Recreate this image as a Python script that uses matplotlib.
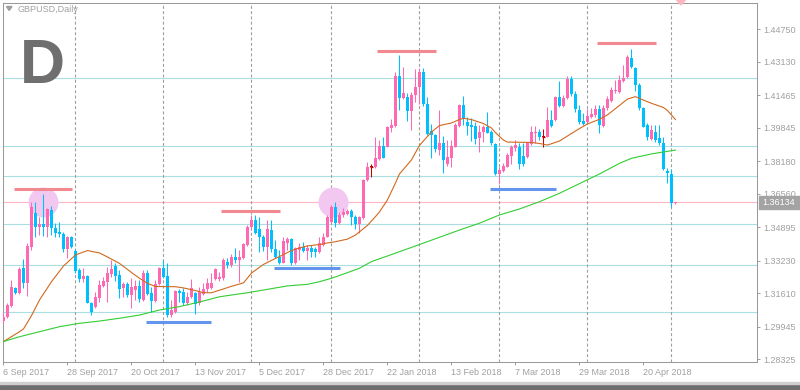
import matplotlib
matplotlib.use('Agg')
import matplotlib.pyplot as plt
import numpy as np
import pandas as pd
from matplotlib.patches import Rectangle, Polygon

plt.rcParams['font.family'] = ['Liberation Sans', 'DejaVu Sans']
plt.rcParams['lines.scale_dashes'] = False

# daily bars 6 Sep 2017 .. 2 May 2018 (no bars on 25 Dec / 1 Jan)
dates = pd.bdate_range('2017-09-06', '2018-05-02')
dates = dates[~dates.isin(pd.to_datetime(['2017-12-25', '2018-01-01']))]

opens = [
    1.3025, 1.3042, 1.3098, 1.3186, 1.3161, 1.3289, 1.3211, 1.3393, 1.3562, 1.3490,
    1.3506, 1.3490, 1.3576, 1.3485, 1.3468, 1.3456, 1.3382, 1.3443, 1.3372, 1.3277,
    1.3231, 1.3247, 1.3114, 1.3095, 1.3136, 1.3199, 1.3219, 1.3257, 1.3297, 1.3252,
    1.3188, 1.3208, 1.3153, 1.3178, 1.3199, 1.3128, 1.3264, 1.3161, 1.3123, 1.3206,
    1.3289, 1.3247, 1.3053, 1.3070, 1.3174, 1.3169, 1.3111, 1.3144, 1.3164, 1.3111,
    1.3158, 1.3181, 1.3186, 1.3231, 1.3231, 1.3236, 1.3319, 1.3302, 1.3340, 1.3327,
    1.3335, 1.3402, 1.3490, 1.3526, 1.3480, 1.3440, 1.3390, 1.3476, 1.3380, 1.3343,
    1.3314, 1.3413, 1.3430, 1.3311, 1.3377, 1.3393, 1.3373, 1.3388, 1.3380, 1.3368,
    1.3402, 1.3443, 1.3518, 1.3589, 1.3513, 1.3551, 1.3556, 1.3572, 1.3542, 1.3506,
    1.3535, 1.3725, 1.3790, 1.3788, 1.3828, 1.3894, 1.3891, 1.3982, 1.3994, 1.4243,
    1.4133, 1.4138, 1.4070, 1.4147, 1.4188, 1.4264, 1.4103, 1.3969, 1.3949, 1.3876,
    1.3909, 1.3805, 1.3833, 1.3891, 1.3994, 1.4098, 1.4015, 1.3999, 1.3994, 1.3932,
    1.3964, 1.3989, 1.3966, 1.3904, 1.3755, 1.3771, 1.3791, 1.3845, 1.3883, 1.3891,
    1.3845, 1.3841, 1.3904, 1.3958, 1.3966, 1.3938, 1.3941, 1.4024, 1.4024, 1.4137,
    1.4093, 1.4132, 1.4226, 1.4153, 1.4074, 1.4020, 1.4015, 1.4037, 1.4049, 1.4077,
    1.3994, 1.4082, 1.4120, 1.4168, 1.4165, 1.4219, 1.4236, 1.4331, 1.4281, 1.4198,
    1.4082, 1.3999, 1.3928, 1.3966, 1.3933, 1.3911, 1.3771, 1.3755, 1.3611,
]
highs = [
    1.3070, 1.3114, 1.3227, 1.3194, 1.3294, 1.3331, 1.3412, 1.3616, 1.3616, 1.3542,
    1.3656, 1.3587, 1.3596, 1.3510, 1.3518, 1.3468, 1.3446, 1.3448, 1.3380, 1.3286,
    1.3289, 1.3252, 1.3119, 1.3169, 1.3227, 1.3244, 1.3294, 1.3327, 1.3311, 1.3277,
    1.3219, 1.3219, 1.3236, 1.3227, 1.3227, 1.3277, 1.3277, 1.3194, 1.3227, 1.3294,
    1.3327, 1.3311, 1.3128, 1.3178, 1.3181, 1.3186, 1.3169, 1.3231, 1.3169, 1.3194,
    1.3211, 1.3236, 1.3261, 1.3286, 1.3269, 1.3335, 1.3335, 1.3357, 1.3385, 1.3377,
    1.3410, 1.3501, 1.3551, 1.3551, 1.3542, 1.3451, 1.3526, 1.3526, 1.3427, 1.3377,
    1.3440, 1.3440, 1.3435, 1.3393, 1.3410, 1.3418, 1.3402, 1.3402, 1.3393, 1.3443,
    1.3460, 1.3551, 1.3601, 1.3617, 1.3567, 1.3584, 1.3581, 1.3579, 1.3551, 1.3546,
    1.3730, 1.3815, 1.3805, 1.3941, 1.3924, 1.3939, 1.3994, 1.4030, 1.4264, 1.4347,
    1.4289, 1.4158, 1.4165, 1.4278, 1.4281, 1.4281, 1.4138, 1.4004, 1.3954, 1.4074,
    1.3944, 1.3922, 1.3924, 1.4007, 1.4103, 1.4143, 1.4037, 1.4034, 1.4015, 1.3999,
    1.3999, 1.4065, 1.3974, 1.3908, 1.3788, 1.3810, 1.3860, 1.3899, 1.3924, 1.3908,
    1.3908, 1.3916, 1.3994, 1.3994, 1.3978, 1.3978, 1.4090, 1.4074, 1.4143, 1.4219,
    1.4148, 1.4243, 1.4243, 1.4170, 1.4098, 1.4057, 1.4077, 1.4082, 1.4098, 1.4098,
    1.4098, 1.4143, 1.4190, 1.4223, 1.4248, 1.4298, 1.4347, 1.4376, 1.4286, 1.4206,
    1.4090, 1.4007, 1.3999, 1.3999, 1.3999, 1.3938, 1.3783, 1.3778, 1.3618,
]
lows = [
    1.3015, 1.3037, 1.3095, 1.3158, 1.3158, 1.3186, 1.3148, 1.3377, 1.3443, 1.3451,
    1.3446, 1.3443, 1.3451, 1.3443, 1.3443, 1.3368, 1.3335, 1.3385, 1.3264, 1.3219,
    1.3219, 1.3111, 1.3053, 1.3087, 1.3119, 1.3194, 1.3119, 1.3244, 1.3222, 1.3136,
    1.3141, 1.3141, 1.3087, 1.3128, 1.3119, 1.3123, 1.3153, 1.3070, 1.3119, 1.3201,
    1.3236, 1.3045, 1.3045, 1.3065, 1.3119, 1.3103, 1.3103, 1.3136, 1.3058, 1.3103,
    1.3153, 1.3169, 1.3181, 1.3226, 1.3224, 1.3227, 1.3286, 1.3292, 1.3311, 1.3219,
    1.3331, 1.3397, 1.3476, 1.3456, 1.3368, 1.3373, 1.3327, 1.3368, 1.3335, 1.3307,
    1.3311, 1.3377, 1.3302, 1.3306, 1.3327, 1.3368, 1.3327, 1.3343, 1.3340, 1.3363,
    1.3397, 1.3440, 1.3510, 1.3493, 1.3506, 1.3542, 1.3549, 1.3501, 1.3480, 1.3463,
    1.3531, 1.3722, 1.3738, 1.3785, 1.3825, 1.3833, 1.3888, 1.3964, 1.3990, 1.4074,
    1.4128, 1.4020, 1.3974, 1.4113, 1.4103, 1.4093, 1.3949, 1.3833, 1.3865, 1.3850,
    1.3762, 1.3795, 1.3791, 1.3888, 1.3990, 1.3999, 1.3949, 1.3921, 1.3904, 1.3866,
    1.3916, 1.3958, 1.3899, 1.3750, 1.3705, 1.3766, 1.3788, 1.3805, 1.3871, 1.3778,
    1.3795, 1.3833, 1.3899, 1.3911, 1.3924, 1.3888, 1.3938, 1.3990, 1.4020, 1.4087,
    1.4090, 1.4127, 1.4143, 1.4065, 1.4004, 1.3999, 1.4007, 1.4032, 1.4037, 1.3961,
    1.3990, 1.4074, 1.4115, 1.4157, 1.4160, 1.4214, 1.4231, 1.4281, 1.4170, 1.4074,
    1.3987, 1.3924, 1.3924, 1.3916, 1.3899, 1.3775, 1.3712, 1.3592, 1.3606,
]
closes = [
    1.3045, 1.3103, 1.3194, 1.3161, 1.3282, 1.3211, 1.3397, 1.3592, 1.3490, 1.3506,
    1.3490, 1.3581, 1.3485, 1.3463, 1.3456, 1.3382, 1.3443, 1.3393, 1.3274, 1.3231,
    1.3247, 1.3114, 1.3070, 1.3141, 1.3203, 1.3222, 1.3261, 1.3281, 1.3247, 1.3183,
    1.3208, 1.3153, 1.3194, 1.3199, 1.3131, 1.3264, 1.3158, 1.3124, 1.3208, 1.3289,
    1.3244, 1.3053, 1.3078, 1.3174, 1.3164, 1.3111, 1.3141, 1.3186, 1.3108, 1.3169,
    1.3181, 1.3211, 1.3211, 1.3281, 1.3244, 1.3327, 1.3302, 1.3340, 1.3327, 1.3340,
    1.3405, 1.3493, 1.3526, 1.3463, 1.3440, 1.3390, 1.3480, 1.3380, 1.3340, 1.3314,
    1.3423, 1.3430, 1.3311, 1.3385, 1.3390, 1.3373, 1.3388, 1.3365, 1.3365, 1.3410,
    1.3443, 1.3542, 1.3589, 1.3513, 1.3551, 1.3567, 1.3572, 1.3540, 1.3506, 1.3540,
    1.3725, 1.3791, 1.3790, 1.3833, 1.3894, 1.3837, 1.3987, 1.3999, 1.4243, 1.4132,
    1.4160, 1.4070, 1.4148, 1.4188, 1.4264, 1.4103, 1.3954, 1.3947, 1.3878, 1.3909,
    1.3823, 1.3841, 1.3894, 1.3999, 1.4098, 1.4027, 1.3994, 1.3987, 1.3929, 1.3964,
    1.3989, 1.3961, 1.3907, 1.3755, 1.3775, 1.3795, 1.3850, 1.3888, 1.3899, 1.3805,
    1.3805, 1.3908, 1.3966, 1.3966, 1.3938, 1.3938, 1.4024, 1.3994, 1.4137, 1.4093,
    1.4132, 1.4226, 1.4153, 1.4077, 1.4015, 1.4004, 1.4044, 1.4054, 1.4077, 1.3999,
    1.4082, 1.4127, 1.4173, 1.4173, 1.4223, 1.4231, 1.4339, 1.4286, 1.4198, 1.4082,
    1.3990, 1.3938, 1.3974, 1.3924, 1.3911, 1.3778, 1.3762, 1.3612, 1.36134,
]

# moving averages at selected bars
ma_fast_idx = [0, 4, 5, 7, 9, 12, 15, 18, 21, 24, 26, 29, 32, 34, 36, 38, 43, 45, 48, 50,
               52, 55, 57, 60, 61, 62, 65, 67, 70, 72, 74, 76, 79, 81, 83, 86, 88, 91, 93, 94,
               96, 98, 99, 102, 104, 107, 109, 112, 114, 115, 117, 120, 122, 123, 125, 126, 129, 132, 134, 136,
               139, 141, 144, 146, 149, 151, 154, 156, 158, 160, 162, 165, 166, 167, 168]
ma_fast = [1.2921, 1.2970, 1.2984, 1.3050, 1.3128, 1.3219, 1.3297, 1.3352, 1.3374, 1.3362,
           1.3342, 1.3310, 1.3265, 1.3236, 1.3211, 1.3195, 1.3194, 1.3188, 1.3175, 1.3164,
           1.3164, 1.3183, 1.3196, 1.3213, 1.3237, 1.3262, 1.3305, 1.3325, 1.3354, 1.3374,
           1.3387, 1.3397, 1.3404, 1.3412, 1.3418, 1.3431, 1.3451, 1.3499, 1.3543, 1.3566,
           1.3626, 1.3710, 1.3755, 1.3825, 1.3897, 1.3964, 1.3996, 1.4009, 1.4026, 1.4032,
           1.4026, 1.4006, 1.3984, 1.3961, 1.3924, 1.3914, 1.3913, 1.3912, 1.3907, 1.3899,
           1.3919, 1.3944, 1.3981, 1.4004, 1.4027, 1.4049, 1.4096, 1.4128, 1.4140, 1.4123,
           1.4107, 1.4086, 1.4071, 1.4049, 1.4026]
ma_slow_idx = [0, 4, 9, 14, 19, 24, 29, 34, 39, 44, 49, 54, 61, 66, 71, 76, 79, 82, 86, 89,
               92, 96, 104, 114, 119, 124, 129, 134, 139, 144, 149, 154, 157, 162, 168]
ma_slow = [1.2921, 1.2945, 1.2970, 1.2995, 1.3012, 1.3023, 1.3037, 1.3053, 1.3078, 1.3095,
           1.3118, 1.3144, 1.3164, 1.3181, 1.3198, 1.3206, 1.3219, 1.3236, 1.3264, 1.3286,
           1.3319, 1.3347, 1.3404, 1.3476, 1.3510, 1.3551, 1.3581, 1.3617, 1.3659, 1.3707,
           1.3755, 1.3808, 1.3833, 1.3855, 1.3874]

levels = [1.42313, 1.38944, 1.37450, 1.35046, 1.33006, 1.30667]
last_price = 1.36134
# drawn objects: (first bar, last bar, price)
highs_marked = [(2.6, 17.1, 1.3680), (54.5, 69.1, 1.3572), (93.5, 108.1, 1.4369), (148.5, 163.1, 1.4409)]
lows_marked = [(35.6, 51.9, 1.3020), (67.6, 84.1, 1.3286), (121.6, 138.1, 1.3679)]
circles = [(9.8, 1.3617), (82.3, 1.3617)]
price_ticks = [1.44750, 1.43130, 1.41465, 1.39845, 1.38180, 1.36560, 1.34895,
               1.33230, 1.31610, 1.29945, 1.28325]

PINK = '#ff69b4'
BLUE = '#00bfff'
GREY = '#a0a0a0'

W, H = 800, 390
def fx(px):
    return px / W
def fy(py):
    return 1 - py / H

fig = plt.figure(figsize=(8, 3.9), dpi=100)
ax = fig.add_axes([fx(2.7), fy(362), (757 - 2.7) / W, (362 - 2.7) / H])

x = np.arange(len(closes))
o, h, l, c = (np.array(v) for v in (opens, highs, lows, closes))
cols = np.where(c > o, PINK, np.where(c < o, BLUE, '#cc0000'))

# levels and month separators
for lv in levels:
    ax.axhline(lv, color='#aadfe2', lw=0.8, zorder=1)
ax.axhline(last_price, color='#ffb6c1', lw=0.8, zorder=1)
month_start = np.where(dates.month[1:] != dates.month[:-1])[0] + 1
for m in month_start:
    ax.axvline(m, color=GREY, lw=0.8, ls=(0, (2.2, 1.6)), zorder=1)

ax.scatter([p[0] for p in circles], [p[1] for p in circles], s=21.6 ** 2,
           color='#f3c8f0', linewidths=0, zorder=2)
for a, b, p in highs_marked:
    ax.hlines(p, a, b, color='#f28890', lw=2.2, zorder=2)
for a, b, p in lows_marked:
    ax.hlines(p, a, b, color='#6495ed', lw=2.2, zorder=2)

# candles
ax.vlines(x, l, h, colors=cols, lw=0.75, zorder=3)
body = np.maximum(np.abs(c - o), 0.0004)
ax.bar(x, body, bottom=np.minimum(o, c), width=0.72, color=cols, linewidth=0, zorder=4)
doji = c == o
ax.hlines(c[doji], x[doji] - 0.45, x[doji] + 0.45, colors='#cc0000', lw=0.9, zorder=4)

ax.plot(ma_fast_idx, ma_fast, color='#d2691e', lw=0.8, zorder=5)
ax.plot(ma_slow_idx, ma_slow, color='#32cd32', lw=0.8, zorder=5)

ax.set_xlim(-0.2, 188.4)
ax.set_ylim(1.28193, 1.46076)

ax.yaxis.tick_right()
ax.set_yticks(price_ticks)
ax.set_yticklabels([f'{p:.5f}' for p in price_ticks])
xt = np.arange(0, len(dates), 16)
ax.set_xticks(xt)
ax.set_xticklabels([f'{d.day} {d:%b %Y}' for d in dates[xt]], ha='left')
ax.tick_params(axis='both', colors=GREY, labelcolor=GREY, labelsize=6.5,
               length=2.5, width=0.75, pad=1.5)
ax.tick_params(axis='y', pad=2)
for s in ax.spines.values():
    s.set_color('#9a9a9a')
    s.set_linewidth(0.75)

# header text and markers
fig.text(fx(18), fy(9), 'GBPUSD,Daily', fontsize=6.5, color=GREY, va='center')
fig.add_artist(Polygon([(fx(6.5), fy(6.5)), (fx(12), fy(6.5)), (fx(9.2), fy(10.5))],
                       closed=True, color=GREY, transform=fig.transFigure))
fig.text(fx(20), fy(83.3), 'D', fontsize=45, fontweight='bold', color='#6f6f6f',
         va='baseline')
fig.add_artist(Polygon([(fx(676.5), fy(0)), (fx(685.5), fy(0)), (fx(681), fy(5))],
                       closed=True, color='#ffb6c1', transform=fig.transFigure))

# last price tag
fig.add_artist(Rectangle((fx(759), fy(209)), 41 / W, 13 / H, color='#a3a3a3',
                         transform=fig.transFigure))
fig.text(fx(762), fy(202.5), f'{last_price:.5f}', fontsize=6.5, color='white', va='center')

# bottom strip
fig.add_artist(Rectangle((0, 0), 1, 6 / H, color='#6e6e6e', transform=fig.transFigure))
fig.add_artist(Rectangle((0, 6 / H), 1, 2 / H, color='#cfcfcf', transform=fig.transFigure))

fig.savefig('out.png', dpi=100)
